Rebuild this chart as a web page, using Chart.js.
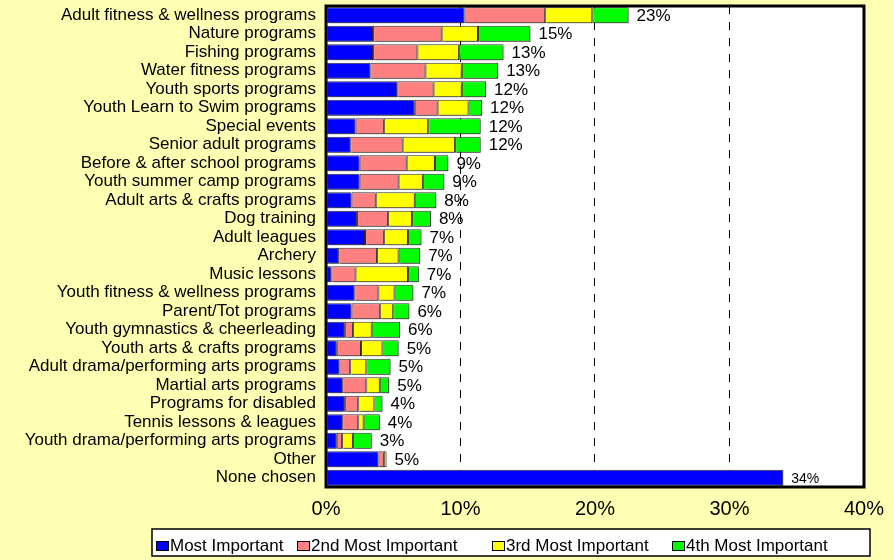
<!DOCTYPE html>
<html>
<head>
<meta charset="utf-8">
<script src="https://cdn.jsdelivr.net/npm/chart.js@4/dist/chart.umd.min.js"></script>
<style>
  html, body { margin: 0; padding: 0; background: #FFFFB3; }
  #wrap { width: 894px; height: 560px; position: relative; }
</style>
</head>
<body>
<div id="wrap"><canvas id="canvas"></canvas></div>
<script>
const categories = ['Adult fitness & wellness programs','Nature programs','Fishing programs','Water fitness programs',
  'Youth sports programs','Youth Learn to Swim programs','Special events','Senior adult programs',
  'Before & after school programs','Youth summer camp programs','Adult arts & crafts programs','Dog training',
  'Adult leagues','Archery','Music lessons','Youth fitness & wellness programs','Parent/Tot programs',
  'Youth gymnastics & cheerleading','Youth arts & crafts programs','Adult drama/performing arts programs',
  'Martial arts programs','Programs for disabled','Tennis lessons & leagues','Youth drama/performing arts programs',
  'Other','None chosen'];
const mostImportant = [10.3,3.5,3.5,3.3,5.3,6.6,2.2,1.8,2.5,2.5,1.9,2.3,2.9,0.9,0.4,2.1,1.9,1.4,0.8,1.0,1.2,1.4,1.2,0.8,3.9,34.0];
const secondImportant = [6.0,5.1,3.3,4.1,2.7,1.7,2.1,3.9,3.5,2.9,1.8,2.3,1.4,2.9,1.8,1.8,2.1,0.6,1.8,0.8,1.8,1.0,1.2,0.4,0.4,0];
const thirdImportant = [3.5,2.7,3.1,2.7,2.1,2.3,3.3,3.9,2.1,1.8,2.9,1.8,1.8,1.6,3.9,1.2,1.0,1.4,1.6,1.2,1.0,1.2,0.4,0.8,0.2,0];
const fourthImportant = [2.7,3.9,3.3,2.7,1.8,1.0,3.9,1.9,1.0,1.6,1.6,1.4,1.0,1.6,0.8,1.4,1.2,2.1,1.2,1.8,0.7,0.6,1.2,1.4,0,0];
const totalLabels = [23,15,13,13,12,12,12,12,9,9,8,8,7,7,7,7,6,6,5,5,5,4,4,3,5,34];
const xTicks = [0,10,20,30,40];

const BG = '#FFFFB3';
const FONT = '"Liberation Sans", Arial, sans-serif';

const seriesNames = ['Most Important','2nd Most Important','3rd Most Important','4th Most Important'];
const seriesColors = ['#0000FF','#FF8080','#FFFF00','#00FF00'];
const seriesData = [mostImportant, secondImportant, thirdImportant, fourthImportant];

const extras = {
  id: 'extras',
  beforeDraw(chart) {
    const ctx = chart.ctx, a = chart.chartArea;
    ctx.save();
    ctx.fillStyle = BG;
    ctx.fillRect(0, 0, chart.width, chart.height);
    ctx.fillStyle = '#fff';
    ctx.fillRect(a.left, a.top, a.right - a.left, a.bottom - a.top);
    ctx.restore();
  },
  beforeDatasetsDraw(chart) {
    const ctx = chart.ctx;
    ctx.save();
    ctx.shadowColor = 'rgba(0,0,0,0.3)';
    ctx.shadowOffsetX = 2;
    ctx.shadowOffsetY = 2;
    ctx.shadowBlur = 0;
  },
  afterDatasetsDraw(chart) {
    chart.ctx.restore();
  },
  afterDraw(chart) {
    const ctx = chart.ctx, a = chart.chartArea;
    // totals at bar ends
    const last = chart.getDatasetMeta(3).data;
    ctx.save();
    ctx.fillStyle = '#000';
    ctx.textBaseline = 'middle';
    ctx.textAlign = 'left';
    last.forEach((bar, i) => {
      ctx.font = (i === last.length - 1 ? '14px ' : '17px ') + FONT;
      ctx.fillText(totalLabels[i] + '%', bar.x + 8, bar.y + 1);
    });
    // plot frame
    ctx.strokeStyle = '#000';
    ctx.lineWidth = 3;
    ctx.strokeRect(a.left, a.top, a.right - a.left, a.bottom - a.top);
    // legend box
    const lx = 152, ly = 529, lw = 718, lh = 27;
    ctx.fillStyle = '#fff';
    ctx.fillRect(lx, ly, lw, lh);
    ctx.lineWidth = 1.5;
    ctx.strokeRect(lx, ly, lw, lh);
    const itemX = [156, 297, 492, 672];
    ctx.font = '17px ' + FONT;
    seriesNames.forEach((name, i) => {
      ctx.fillStyle = seriesColors[i];
      ctx.fillRect(itemX[i], 541, 13, 10);
      ctx.lineWidth = 1;
      ctx.strokeStyle = '#000';
      ctx.strokeRect(itemX[i] + 0.5, 541.5, 12, 9);
      ctx.fillStyle = '#000';
      ctx.fillText(name, itemX[i] + 14, 546.5);
    });
    ctx.restore();
  }
};

const data = {
  labels: categories,
  datasets: seriesNames.map((name, i) => ({
    label: name,
    data: seriesData[i],
    backgroundColor: seriesColors[i],
    borderColor: '#333',
    borderWidth: 1,
    borderSkipped: false,
    barPercentage: 0.87,
    categoryPercentage: 1.0
  }))
};

const config = {
  type: 'bar',
  data: data,
  options: {
    indexAxis: 'y',
    responsive: true,
    maintainAspectRatio: false,
    animation: false,
    layout: { autoPadding: false, padding: { left: 0, right: 25, top: 6, bottom: 0 } },
    plugins: { legend: { display: false }, tooltip: { enabled: false } },
    scales: {
      x: {
        stacked: true,
        min: 0,
        max: 40,
        afterBuildTicks(scale) { scale.ticks = xTicks.map(v => ({ value: v })); },
        afterFit(scale) { scale.height = 73; scale.paddingTop = 0; scale.paddingBottom = 0; },
        grid: {
          drawTicks: false,
          color: ctx => (ctx.tick && (ctx.tick.value === 0 || ctx.tick.value === 40)) ? 'rgba(0,0,0,0)' : '#000',
          lineWidth: 1
        },
        border: { display: false, dash: [8, 8] },
        ticks: {
          padding: 10,
          color: '#000',
          font: { family: FONT, size: 20 },
          callback: v => v + '%'
        }
      },
      y: {
        stacked: true,
        afterFit(scale) { scale.width = 326; scale.paddingTop = 0; scale.paddingBottom = 0; },
        grid: { display: false, drawTicks: false },
        border: { display: false },
        ticks: {
          padding: 10,
          color: '#000',
          autoSkip: false,
          font: { family: FONT, size: 17 }
        }
      }
    }
  },
  plugins: [extras]
};

const canvas = document.getElementById('canvas');
const chart = new Chart(canvas, config);
</script>
</body>
</html>
